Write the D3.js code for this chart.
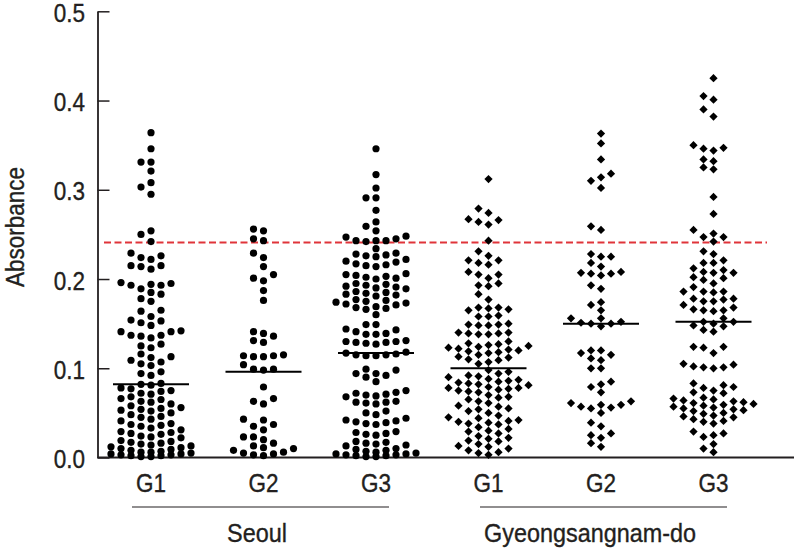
<!DOCTYPE html>
<html>
<head>
<meta charset="utf-8">
<script src="https://cdn.jsdelivr.net/npm/d3@7"></script>
<style>
  html, body { margin: 0; padding: 0; background: #fff; }
  svg { display: block; }
  text { font-family: "Liberation Sans", Arial, sans-serif; fill: #231f20; stroke: #231f20; stroke-width: 0.35px; }
</style>
</head>
<body>
<svg id="chart" width="794" height="549"></svg>
<script>
// Absorbance column scatter, Seoul vs Gyeongsangnam-do, groups G1-G3

// --- Data ---
const categories = ["G1", "G2", "G3", "G1", "G2", "G3"];
const regions = ["Seoul", "Gyeongsangnam-do"];
const yTicks = [0.0, 0.1, 0.2, 0.3, 0.4, 0.5];
const cutoff = 0.241;
const medians = [0.082, 0.096, 0.117, 0.100, 0.150, 0.152];

const seoulG1 = [
  0.364, 0.346, 0.331, 0.331, 0.321, 0.308, 0.303, 0.295,
  0.254, 0.250, 0.242,
  0.229, 0.226, 0.224, 0.222, 0.215, 0.215, 0.214, 0.211,
  0.196, 0.195, 0.194, 0.193, 0.193, 0.189, 0.185, 0.183, 0.178, 0.175,
  0.165, 0.164, 0.158, 0.154, 0.153, 0.151, 0.148,
  0.142, 0.141, 0.141, 0.137, 0.137, 0.136, 0.134, 0.127, 0.125, 0.123,
  0.116, 0.113, 0.112, 0.109, 0.107, 0.105, 0.103, 0.096, 0.094, 0.092,
  0.083, 0.082, 0.081,
  0.078, 0.077, 0.075, 0.074, 0.072, 0.071,
  0.068, 0.066, 0.065, 0.063, 0.062, 0.060,
  0.058, 0.056, 0.055, 0.054, 0.053, 0.052, 0.050,
  0.048, 0.046, 0.045, 0.043, 0.041,
  0.038, 0.037, 0.036, 0.035, 0.033, 0.031,
  0.029, 0.028, 0.027, 0.026, 0.024, 0.023, 0.022,
  0.019, 0.018, 0.017, 0.016, 0.015, 0.014, 0.013, 0.012, 0.011,
  0.010, 0.009, 0.008, 0.007, 0.006, 0.006, 0.005, 0.004, 0.004,
  0.003, 0.003, 0.002, 0.002, 0.001, 0.001
];
const seoulG2 = [
  0.256, 0.254, 0.245, 0.243, 0.229, 0.224, 0.214, 0.205, 0.201, 0.198, 0.187, 0.176,
  0.141, 0.139, 0.136, 0.131, 0.129,
  0.115, 0.114, 0.114, 0.113, 0.113,
  0.104, 0.099, 0.099, 0.098,
  0.079, 0.066, 0.063, 0.060,
  0.043, 0.042, 0.037, 0.035, 0.031,
  0.023, 0.023, 0.020,
  0.016, 0.013, 0.011, 0.010, 0.008, 0.006, 0.005, 0.004, 0.003, 0.002
];
const seoulG3 = [
  0.346, 0.317, 0.302, 0.291, 0.291, 0.277, 0.264, 0.259, 0.254,
  0.248, 0.247, 0.245, 0.243, 0.243, 0.243, 0.242, 0.234,
  0.229, 0.228, 0.227, 0.226, 0.225,
  0.222, 0.220, 0.219, 0.217, 0.216, 0.215, 0.214,
  0.206, 0.205, 0.204, 0.203, 0.202, 0.201, 0.200,
  0.195, 0.194, 0.193, 0.192, 0.191, 0.190, 0.189,
  0.186, 0.185, 0.184, 0.183, 0.182, 0.181,
  0.177, 0.176, 0.175, 0.174, 0.173, 0.172, 0.171,
  0.169, 0.168, 0.167, 0.166, 0.160,
  0.149, 0.149, 0.144, 0.143, 0.141, 0.139, 0.138, 0.138,
  0.131, 0.130, 0.130, 0.129, 0.129, 0.128, 0.127,
  0.118, 0.117, 0.116, 0.115, 0.115, 0.114, 0.114,
  0.099, 0.098, 0.094, 0.094, 0.092, 0.090, 0.085,
  0.075, 0.073, 0.072, 0.071, 0.070, 0.069, 0.068,
  0.063, 0.062, 0.062, 0.061, 0.060, 0.052, 0.050, 0.048,
  0.044, 0.042, 0.041, 0.040, 0.039, 0.038, 0.037,
  0.029, 0.028, 0.027, 0.026, 0.025,
  0.018, 0.017, 0.016, 0.015, 0.014, 0.013,
  0.010, 0.009, 0.008, 0.007, 0.006, 0.005, 0.004, 0.004,
  0.003, 0.003, 0.002, 0.002, 0.001, 0.001
];
const gyeongG1 = [
  0.312, 0.279, 0.274, 0.267, 0.266, 0.264, 0.261, 0.243, 0.231,
  0.226, 0.221, 0.221, 0.218, 0.216, 0.208, 0.205, 0.205, 0.201,
  0.195, 0.193, 0.192, 0.183,
  0.177, 0.168, 0.168, 0.167, 0.166, 0.165, 0.159, 0.158, 0.158,
  0.150, 0.149, 0.149, 0.148, 0.148, 0.140, 0.140, 0.139, 0.139, 0.138, 0.138,
  0.130, 0.128, 0.127, 0.126, 0.125, 0.124, 0.123, 0.122, 0.121, 0.120,
  0.119, 0.118, 0.117, 0.115, 0.113, 0.112, 0.110, 0.109, 0.107, 0.105,
  0.098, 0.096, 0.094, 0.092, 0.091, 0.090,
  0.088, 0.087, 0.086, 0.085, 0.084, 0.083, 0.082, 0.081,
  0.079, 0.078, 0.078, 0.077, 0.076, 0.075, 0.074, 0.073,
  0.070, 0.068, 0.067, 0.065, 0.063, 0.061,
  0.058, 0.057, 0.055, 0.054, 0.052, 0.050,
  0.047, 0.045, 0.044, 0.042, 0.041, 0.040, 0.039, 0.038, 0.037,
  0.034, 0.032, 0.030, 0.029, 0.027, 0.024, 0.022, 0.021, 0.019, 0.018,
  0.015, 0.013, 0.012, 0.010, 0.008, 0.006, 0.005, 0.003
];
const gyeongG2 = [
  0.363, 0.352, 0.334, 0.318, 0.314, 0.310, 0.302, 0.259, 0.255,
  0.228, 0.225, 0.225, 0.218, 0.214, 0.208, 0.207, 0.206, 0.206, 0.204,
  0.193, 0.189, 0.174, 0.171, 0.165,
  0.156, 0.156, 0.152, 0.151, 0.150, 0.150, 0.147,
  0.120, 0.120, 0.117, 0.115, 0.111, 0.109, 0.100, 0.100,
  0.085, 0.082, 0.079, 0.073,
  0.063, 0.061, 0.059, 0.059, 0.057, 0.056, 0.055, 0.050,
  0.039, 0.035, 0.027, 0.025, 0.022, 0.016, 0.012
];
const gyeongG3 = [
  0.425, 0.405, 0.401, 0.390, 0.382,
  0.350, 0.347, 0.346, 0.344, 0.334, 0.332, 0.325, 0.323,
  0.292, 0.273, 0.255, 0.251, 0.247, 0.247, 0.242, 0.231, 0.228,
  0.221, 0.218, 0.218, 0.212, 0.210, 0.208, 0.207, 0.207,
  0.202, 0.201, 0.199, 0.195, 0.191, 0.186, 0.186, 0.186, 0.185,
  0.178, 0.178, 0.177, 0.175, 0.175, 0.171, 0.168, 0.166, 0.165, 0.165, 0.164,
  0.156, 0.152, 0.152, 0.150, 0.148, 0.147, 0.143, 0.141,
  0.124, 0.124, 0.123, 0.117, 0.105, 0.104, 0.102, 0.101, 0.101, 0.100,
  0.083, 0.081, 0.079, 0.078, 0.075, 0.073, 0.072,
  0.067, 0.066, 0.065, 0.064, 0.063, 0.062, 0.061, 0.060, 0.059, 0.058,
  0.057, 0.056, 0.055, 0.054, 0.053, 0.052, 0.050, 0.049, 0.047, 0.046,
  0.045, 0.043, 0.041, 0.040, 0.038,
  0.029, 0.027, 0.025, 0.023, 0.015, 0.010, 0.006
];

const series = [seoulG1, seoulG2, seoulG3, gyeongG1, gyeongG2, gyeongG3];
const markers = ["circle", "circle", "circle", "diamond", "diamond", "diamond"];

// --- Scales ---
const svg = d3.select("#chart");
const ink = "#231f20";
const narrow = 0.9;   // the figure uses a condensed face

const x = d3.scalePoint().domain(d3.range(categories.length)).range([151, 713.5]);
const y = d3.scaleLinear().domain([0, 0.5]).range([457.5, 11.3]);

// Column scatter layout: each point goes to the first free column
// (0, -1, +1, -2, +2 ...) where it doesn't overlap a point already there.
function swarm(values, step, minDy, maxCol) {
  const placed = [];
  const sorted = values.slice().sort((a, b) => a - b);
  const order = [0];
  for (let k = 1; k <= maxCol; k++) order.push(-k, k);
  sorted.forEach(v => {
    const py = y(v);
    let best = null, bestGap = -1;
    for (const c of order) {
      const gap = d3.min(placed.filter(p => p.col === c), p => Math.abs(p.py - py));
      if (gap === undefined || gap >= minDy) { best = c; bestGap = Infinity; break; }
      if (gap > bestGap) { bestGap = gap; best = c; }
    }
    placed.push({ v, py, col: best, dx: best * step });
  });
  return placed;
}

// condensed text placed at (px, py)
function label(parent, px, py, str, size, anchor, rot) {
  return parent.append("text")
    .attr("transform", `translate(${px},${py})${rot ? " rotate(" + rot + ")" : ""} scale(${narrow},1)`)
    .attr("text-anchor", anchor || "middle")
    .style("font-size", size + "px")
    .text(str);
}

// --- Axes ---
const yAxis = d3.axisLeft(y)
  .tickValues(yTicks)
  .tickFormat(d3.format(".1f"))
  .tickSizeInner(-12)
  .tickSizeOuter(0)
  .tickPadding(14);

const gy = svg.append("g")
  .attr("transform", "translate(97.5,0)")
  .call(yAxis);
gy.attr("font-family", null).attr("font-size", null);
gy.select(".domain").attr("stroke", ink).attr("stroke-width", 1.8);
gy.selectAll(".tick line").attr("stroke", ink).attr("stroke-width", 1.5);
gy.selectAll(".tick text")
  .attr("fill", ink)
  .attr("x", -12.5 / narrow)
  .attr("dy", "0.4em")
  .attr("transform", `scale(${narrow},1)`)
  .style("font-size", "25px");

svg.append("line")
  .attr("x1", 97.5).attr("x2", 794)
  .attr("y1", y(0)).attr("y2", y(0))
  .attr("stroke", ink).attr("stroke-width", 1.8);

label(svg, 24, 227, "Absorbance", 25, "middle", -90);

// --- Cutoff ---
svg.append("line")
  .attr("x1", 104).attr("x2", 767)
  .attr("y1", y(cutoff)).attr("y2", y(cutoff))
  .attr("stroke", "#e0343a")
  .attr("stroke-width", 2)
  .attr("stroke-dasharray", "7,3.5");

// --- Points ---
const diamond = d3.symbol(d3.symbolSquare, 34)();

series.forEach((vals, i) => {
  const cx = x(i);
  const pts = swarm(vals, 10, 8, 4);
  const g = svg.append("g").attr("class", "group");
  if (markers[i] === "circle") {
    g.selectAll("circle").data(pts).join("circle")
      .attr("cx", d => cx + d.dx)
      .attr("cy", d => d.py)
      .attr("r", 3.6)
      .attr("fill", "#000");
  } else {
    g.selectAll("path").data(pts).join("path")
      .attr("d", diamond)
      .attr("transform", d => `translate(${cx + d.dx},${d.py}) rotate(45)`)
      .attr("fill", "#000");
  }
  // median bar
  svg.append("line")
    .attr("x1", cx - 38).attr("x2", cx + 38)
    .attr("y1", y(medians[i])).attr("y2", y(medians[i]))
    .attr("stroke", "#000").attr("stroke-width", 2);
});

// --- Category labels ---
categories.forEach((c, i) => label(svg, x(i), 492, c, 25));

const regionSpans = [[132, 389], [480, 727]];
const regionLabelX = [257, 590];
regionSpans.forEach((s, i) => {
  svg.append("line")
    .attr("x1", s[0]).attr("x2", s[1])
    .attr("y1", 507).attr("y2", 507)
    .attr("stroke", ink).attr("stroke-width", 1.2);
  label(svg, regionLabelX[i], 542, regions[i], 26);
});
</script>
</body>
</html>
